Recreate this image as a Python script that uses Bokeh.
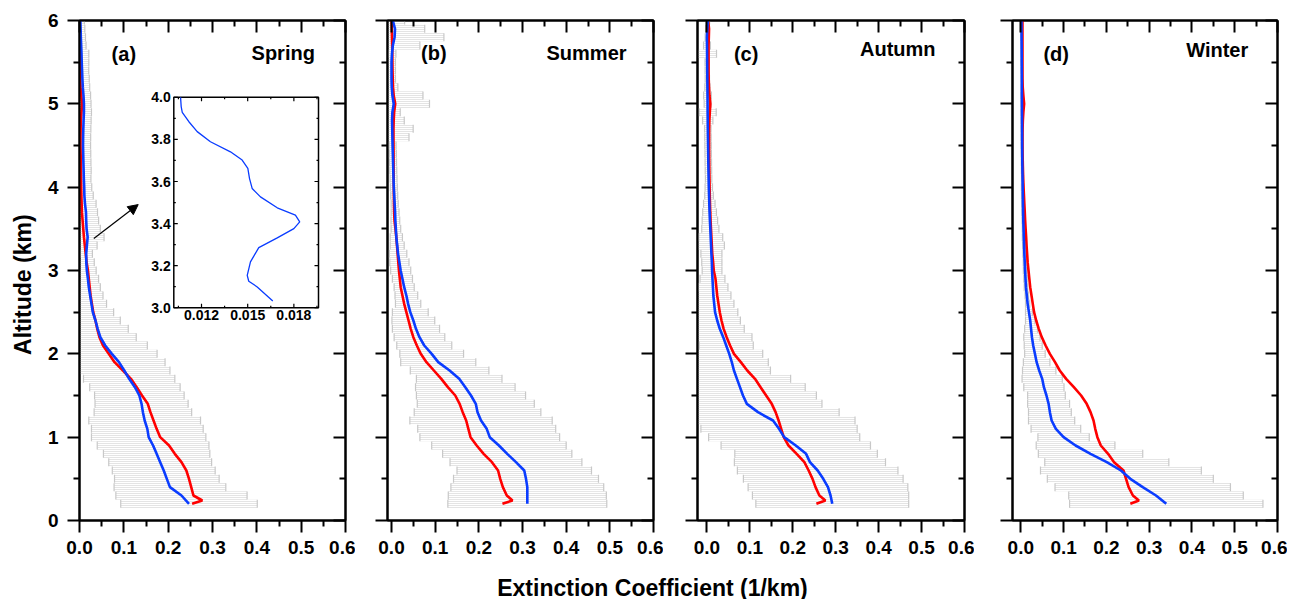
import math
from bokeh.plotting import figure
from bokeh.models import (LinearAxis, FixedTicker, PrintfTickFormatter, CustomJSTickFormatter,
                          Label, Range1d, Arrow, NormalHead, ColumnDataSource)
from bokeh.layouts import row, column
from bokeh.embed import file_html
from bokeh.resources import INLINE
from bokeh.core.properties import value

# ---------------- data ----------------
ALT = [0.2, 0.3, 0.4, 0.5, 0.6, 0.7, 0.8, 0.9, 1.0, 1.1,
       1.2, 1.3, 1.4, 1.5, 1.6, 1.7, 1.8, 1.9, 2.0, 2.1,
       2.2, 2.3, 2.4, 2.5, 2.6, 2.7, 2.8, 2.9, 3.0, 3.1,
       3.2, 3.3, 3.4, 3.5, 3.6, 3.7, 3.8, 3.9, 4.0, 4.1,
       4.2, 4.3, 4.4, 4.5, 4.6, 4.7, 4.8, 4.9, 5.0, 5.1,
       5.2, 5.3, 5.4, 5.5, 5.6, 5.7, 5.8, 5.9, 6.0]
RED_ALT = [0.2, 0.24] + ALT[1:]

BLUE_A = [0.247, 0.230, 0.204, 0.197, 0.190, 0.182, 0.174, 0.166, 0.156, 0.153,
          0.147, 0.143, 0.140, 0.135, 0.125, 0.112, 0.101, 0.089, 0.073, 0.058,
          0.047, 0.041, 0.036, 0.030, 0.027, 0.024, 0.021, 0.019, 0.0166, 0.0153,
          0.0151, 0.0167, 0.0184, 0.0160, 0.0151, 0.0146, 0.0124, 0.0110, 0.0106, 0.0098,
          0.0093, 0.0088, 0.0084, 0.0080, 0.0082, 0.0086, 0.0092, 0.0100, 0.0100, 0.0090,
          0.0075, 0.0065, 0.0058, 0.0050, 0.0045, 0.0038, 0.0030, 0.0025, 0.0020]
SD_A = [0.154, 0.148, 0.126, 0.118, 0.116, 0.116, 0.120, 0.126, 0.129, 0.126,
        0.126, 0.110, 0.105, 0.101, 0.102, 0.103, 0.103, 0.104, 0.102, 0.095,
        0.081, 0.069, 0.056, 0.047, 0.034, 0.029, 0.026, 0.024, 0.021, 0.018,
        0.014, 0.023, 0.037, 0.031, 0.028, 0.026, 0.025, 0.020, 0.017, 0.016,
        0.017, 0.017, 0.017, 0.017, 0.017, 0.017, 0.017, 0.017, 0.016, 0.016,
        0.0155, 0.0155, 0.015, 0.016, 0.0165, 0.011, 0.0105, 0.0095, 0.009]
RED_A = [0.254, 0.277, 0.257, 0.252, 0.247, 0.241, 0.230, 0.215, 0.202, 0.182,
         0.174, 0.167, 0.160, 0.154, 0.141, 0.129, 0.116, 0.098, 0.079, 0.066,
         0.053, 0.045, 0.040, 0.036, 0.031, 0.028, 0.025, 0.023, 0.021, 0.019,
         0.016, 0.014, 0.012, 0.010, 0.0085, 0.007, 0.0055, 0.0048, 0.0042, 0.0038,
         0.0035, 0.0032, 0.0029, 0.0026, 0.0023, 0.0023, 0.0025, 0.0030, 0.0045, 0.0060,
         0.0040, 0.0025, 0.0015, 0.0010, 0.0008, 0.0006, 0.0005, 0.0004, 0.0002, 0.0]

BLUE_B = [0.311, 0.311, 0.311, 0.308, 0.304, 0.285, 0.265, 0.246, 0.225, 0.218,
          0.205, 0.197, 0.193, 0.182, 0.169, 0.155, 0.133, 0.107, 0.092, 0.075,
          0.064, 0.056, 0.050, 0.043, 0.038, 0.034, 0.029, 0.025, 0.021, 0.018,
          0.015, 0.013, 0.011, 0.0100, 0.0088, 0.0082, 0.0072, 0.0062, 0.0052, 0.0046,
          0.0040, 0.0035, 0.0030, 0.0024, 0.0020, 0.0016, 0.0012, 0.0020, 0.0050, 0.0020,
          0.0005, 0.0, 0.0, 0.0, 0.0010, 0.0030, 0.0070, 0.0080, 0.0030]
SD_B = [0.182, 0.181, 0.175, 0.166, 0.154, 0.151, 0.148, 0.154, 0.160, 0.158,
        0.163, 0.145, 0.134, 0.125, 0.114, 0.098, 0.090, 0.086, 0.073, 0.063,
        0.058, 0.054, 0.049, 0.041, 0.029, 0.026, 0.023, 0.023, 0.023, 0.022,
        0.020, 0.016, 0.014, 0.011, 0.010, 0.009, 0.008, 0.008, 0.008, 0.008,
        0.008, 0.008, 0.008, 0.008, 0.038, 0.048, 0.028, 0.018, 0.082, 0.070,
        0.014, 0.009, 0.009, 0.009, 0.009, 0.062, 0.113, 0.068, 0.027]
RED_B = [0.254, 0.277, 0.264, 0.255, 0.249, 0.244, 0.230, 0.211, 0.195, 0.181,
         0.176, 0.171, 0.163, 0.156, 0.146, 0.129, 0.114, 0.097, 0.080, 0.067,
         0.058, 0.050, 0.044, 0.039, 0.034, 0.029, 0.025, 0.021, 0.019, 0.017,
         0.0155, 0.0140, 0.0125, 0.0110, 0.0090, 0.0068, 0.0060, 0.0056, 0.0054, 0.0052,
         0.0050, 0.0049, 0.0048, 0.0047, 0.0046, 0.0045, 0.0045, 0.0050, 0.0060, 0.0085,
         0.0050, 0.0035, 0.0028, 0.0023, 0.0020, 0.0018, 0.0015, 0.0010, 0.0006, 0.0]

BLUE_C = [0.292, 0.288, 0.282, 0.271, 0.258, 0.240, 0.231, 0.207, 0.180, 0.168,
          0.154, 0.119, 0.093, 0.084, 0.077, 0.070, 0.063, 0.058, 0.052, 0.045,
          0.038, 0.030, 0.024, 0.019, 0.017, 0.015, 0.014, 0.013, 0.012, 0.0115,
          0.0105, 0.0097, 0.0088, 0.0080, 0.0070, 0.0062, 0.0056, 0.0050, 0.0044, 0.0040,
          0.0036, 0.0033, 0.0030, 0.0027, 0.0024, 0.0021, 0.0019, 0.0017, 0.0016, 0.0014,
          0.0012, 0.0010, 0.0008, 0.0006, 0.0004, 0.0002, 0.0, 0.0010, 0.0023]
SD_C = [0.178, 0.182, 0.186, 0.186, 0.187, 0.176, 0.166, 0.174, 0.176, 0.182,
        0.191, 0.189, 0.175, 0.171, 0.152, 0.125, 0.085, 0.085, 0.078, 0.063,
        0.067, 0.057, 0.054, 0.053, 0.046, 0.041, 0.035, 0.029, 0.023, 0.0235,
        0.0245, 0.031, 0.028, 0.020, 0.018, 0.016, 0.0134, 0.010, 0.0086, 0.0075,
        0.0075, 0.0075, 0.0075, 0.0075, 0.0075, 0.0075, 0.012, 0.020, 0.008, 0.009,
        0.006, 0.005, 0.005, 0.005, 0.022, 0.008, 0.004, 0.004, 0.004]
RED_C = [0.255, 0.276, 0.262, 0.253, 0.246, 0.237, 0.227, 0.209, 0.190, 0.179,
         0.173, 0.167, 0.160, 0.151, 0.138, 0.125, 0.112, 0.094, 0.079, 0.063,
         0.054, 0.046, 0.039, 0.034, 0.030, 0.027, 0.024, 0.022, 0.020, 0.016,
         0.0145, 0.0125, 0.0115, 0.0105, 0.0095, 0.0085, 0.0078, 0.0072, 0.0067, 0.0063,
         0.0060, 0.0057, 0.0055, 0.0053, 0.0052, 0.0052, 0.0053, 0.0058, 0.0068, 0.0080,
         0.0060, 0.0048, 0.0042, 0.0039, 0.0039, 0.0039, 0.0039, 0.0045, 0.0050, 0.0030]

BLUE_D = [0.340, 0.316, 0.285, 0.256, 0.234, 0.201, 0.163, 0.128, 0.100, 0.082,
          0.072, 0.068, 0.065, 0.060, 0.054, 0.050, 0.043, 0.037, 0.033, 0.029,
          0.026, 0.024, 0.022, 0.019, 0.016, 0.014, 0.012, 0.0110, 0.0100, 0.0092,
          0.0083, 0.0077, 0.0070, 0.0064, 0.0058, 0.0054, 0.0050, 0.0047, 0.0044, 0.0041,
          0.0038, 0.0035, 0.0033, 0.0031, 0.0030, 0.0029, 0.0028, 0.0027, 0.0026, 0.0025,
          0.0024, 0.0024, 0.0023, 0.0022, 0.0021, 0.0020, 0.0018, 0.0017, 0.0016]
SD_D = [0.226, 0.204, 0.205, 0.194, 0.188, 0.145, 0.122, 0.092, 0.060, 0.058,
        0.054, 0.050, 0.049, 0.044, 0.047, 0.047, 0.039, 0.031, 0.024, 0.021,
        0.019, 0.015, 0.011, 0.008, 0.005, 0.004, 0.004, 0.004, 0.004, 0.0035,
        0.0035, 0.0035, 0.0035, 0.003, 0.003, 0.003, 0.003, 0.003, 0.003, 0.0025,
        0.0025, 0.0025, 0.0025, 0.0025, 0.0025, 0.0025, 0.0025, 0.0025, 0.0025, 0.0025,
        0.002, 0.002, 0.002, 0.002, 0.002, 0.002, 0.002, 0.002, 0.002]
RED_D = [0.256, 0.276, 0.262, 0.252, 0.246, 0.240, 0.218, 0.204, 0.187, 0.179,
         0.174, 0.170, 0.163, 0.154, 0.141, 0.124, 0.106, 0.091, 0.080, 0.068,
         0.058, 0.049, 0.042, 0.036, 0.031, 0.028, 0.025, 0.022, 0.020, 0.018,
         0.016, 0.0148, 0.0135, 0.0125, 0.0113, 0.0102, 0.0093, 0.0083, 0.0074, 0.0064,
         0.0056, 0.0050, 0.0046, 0.0042, 0.0040, 0.0040, 0.0042, 0.0048, 0.0060, 0.0078,
         0.0060, 0.0045, 0.0040, 0.0039, 0.0039, 0.0039, 0.0039, 0.0039, 0.0039, 0.0039]

# inset of panel (a): blue profile between 3 and 4 km
INSET_X = [0.01663, 0.01562, 0.01507, 0.01497, 0.01518, 0.01572, 0.01692, 0.01800,
           0.01838, 0.01810, 0.01692, 0.01583, 0.01529, 0.01512, 0.01501, 0.01464,
           0.01388, 0.01258, 0.01172, 0.01118, 0.01075, 0.01068, 0.01064]
INSET_Y = [3.032, 3.099, 3.126, 3.154, 3.218, 3.286, 3.332, 3.376,
           3.408, 3.440, 3.475, 3.527, 3.567, 3.614, 3.662, 3.702,
           3.741, 3.789, 3.837, 3.884, 3.929, 3.956, 4.000]
INSET_XTICKS = [0.012, 0.015, 0.018]
INSET_XMINOR = [0.0105, 0.0135, 0.0165, 0.0195]
INSET_YTICKS = [3.0, 3.2, 3.4, 3.6, 3.8, 4.0]
INSET_YMINOR = [3.1, 3.3, 3.5, 3.7, 3.9]

XTICKS = [0.0, 0.1, 0.2, 0.3, 0.4, 0.5, 0.6]
XMINOR = [0.05, 0.15, 0.25, 0.35, 0.45, 0.55]
YTICKS = [0, 1, 2, 3, 4, 5, 6]
YMINOR = [0.5, 1.5, 2.5, 3.5, 4.5, 5.5]

LETTERS = ["(a)", "(b)", "(c)", "(d)"]
SEASONS = ["Spring", "Summer", "Autumn", "Winter"]
X_TITLE = "Extinction Coefficient (1/km)"
Y_TITLE = "Altitude (km)"

# ---------------- style ----------------
FONT = "Liberation Sans"
BLUE = "#0a3cff"
RED = "#ff0000"
GRAY = "#c8c8c8"
H = 562
BT, BB = 20, 42          # frame top / bottom border (frame 20..520)
X_END = 0.6
BAR_H = 0.1
YT_W = 40                # width of the strip carrying the y title

PANEL_SPECS = [
    dict(x0=0.0, w=355 - YT_W, bl=79 - YT_W, lx=0.100, ly=5.60, sx=0.4595, sy=5.61),
    dict(x0=-0.0092, w=308, bl=32, lx=0.0968, ly=5.61, sx=0.4466, sy=5.61),
    dict(x0=-0.0219, w=311, bl=34, lx=0.0915, ly=5.60, sx=0.4446, sy=5.655),
    dict(x0=-0.0194, w=313, bl=38, lx=0.0827, ly=5.60, sx=0.4591, sy=5.645),
]
BR = 10

EMPTY = CustomJSTickFormatter(code="return ''")


def style_axis(ax, tin, tout, labels):
    ax.axis_line_width = 2
    ax.axis_line_color = "black"
    ax.major_tick_line_width = 2
    ax.minor_tick_line_width = 2
    ax.major_tick_in = tin[0]
    ax.major_tick_out = tout[0]
    ax.minor_tick_in = tin[1]
    ax.minor_tick_out = tout[1]
    ax.major_label_text_font = FONT
    ax.major_label_text_font_size = "19px" if labels else "0px"
    ax.major_label_text_font_style = "bold"
    ax.major_label_text_color = "black"


def make_panel(i, blue, sd, red):
    s = PANEL_SPECS[i]
    p = figure(width=s["w"], height=H, x_range=Range1d(s["x0"], X_END), y_range=Range1d(0, 6),
               output_backend="svg", toolbar_location=None,
               min_border_left=s["bl"], min_border_right=BR,
               min_border_top=BT, min_border_bottom=BB)
    p.xgrid.visible = False
    p.ygrid.visible = False
    p.outline_line_color = "black"
    p.outline_line_width = 2
    p.background_fill_color = "white"

    xb = p.xaxis[0]
    xb.ticker = FixedTicker(ticks=XTICKS, minor_ticks=XMINOR)
    xb.formatter = PrintfTickFormatter(format="%.1f")
    style_axis(xb, (0, 0), (12, 6), True)
    xb.major_label_standoff = 8

    yl = p.yaxis[0]
    yl.ticker = FixedTicker(ticks=YTICKS, minor_ticks=YMINOR)
    if i == 0:
        yl.formatter = PrintfTickFormatter(format="%d")
        style_axis(yl, (0, 0), (12, 6), True)
    else:
        yl.formatter = EMPTY
        style_axis(yl, (0, 0), (12, 6), False)
    yl.major_label_standoff = 9

    yr = LinearAxis(ticker=FixedTicker(ticks=YTICKS, minor_ticks=YMINOR), formatter=EMPTY)
    style_axis(yr, (12, 6), (0, 0), False)
    yr.major_label_standoff = 0
    p.add_layout(yr, "right")
    xt = LinearAxis(ticker=FixedTicker(ticks=XTICKS, minor_ticks=XMINOR), formatter=EMPTY)
    style_axis(xt, (12, 6), (0, 0), False)
    xt.major_label_standoff = 0
    p.add_layout(xt, "above")

    src = ColumnDataSource(dict(alt=ALT,
                                lo=[m - d for m, d in zip(blue, sd)],
                                hi=[m + d for m, d in zip(blue, sd)]))
    p.hbar(y="alt", left="lo", right="hi", height=BAR_H, source=src,
           fill_color=None, line_color=None,
           hatch_pattern="horizontal_line", hatch_color=GRAY, hatch_scale=2, hatch_weight=1.0)
    for end in ("lo", "hi"):
        p.scatter(x=end, y="alt", source=src, marker="dash", angle=math.pi / 2, size=8,
                  line_color=GRAY, line_width=1.2)
    p.line(red, RED_ALT, line_color=RED, line_width=2.6)
    p.line(blue, ALT, line_color=BLUE, line_width=2.6)

    for txt, x, y in ((LETTERS[i], s["lx"], s["ly"]), (SEASONS[i], s["sx"], s["sy"])):
        p.add_layout(Label(x=x, y=y, text=txt, text_font=FONT, text_font_size="20px",
                           text_font_style="bold", text_align="center", text_baseline="middle",
                           text_color="black"))
    return p


pa = make_panel(0, BLUE_A, SD_A, RED_A)
pb = make_panel(1, BLUE_B, SD_B, RED_B)
pc = make_panel(2, BLUE_C, SD_C, RED_C)
pd_ = make_panel(3, BLUE_D, SD_D, RED_D)

# ---------------- inset in panel (a) ----------------
BOX = (0.2127, 0.5391, 2.553, 5.078)      # inset frame in panel-(a) data units
IX = (0.0102, 0.0196)
IY = (3.0, 4.0)
kx = (IX[1] - IX[0]) / (BOX[1] - BOX[0])
ky = (IY[1] - IY[0]) / (BOX[3] - BOX[2])
pa.extra_x_ranges = {"ix": Range1d(IX[0] - BOX[0] * kx, IX[1] + (X_END - BOX[1]) * kx)}
pa.extra_y_ranges = {"iy": Range1d(IY[0] - BOX[2] * ky, IY[1] + (6 - BOX[3]) * ky)}
ir = dict(x_range_name="ix", y_range_name="iy")

pa.quad(left=[IX[0]], right=[IX[1]], bottom=[IY[0]], top=[IY[1]], fill_color="white",
        line_color="black", line_width=1.5, **ir)
px_x = (IX[1] - IX[0]) / 145.0   # inset units per pixel
px_y = (IY[1] - IY[0]) / 210.0
tx0, tx1, ty0, ty1 = [], [], [], []
for t, ln in [(v, 4) for v in INSET_XTICKS] + [(v, 2) for v in INSET_XMINOR]:
    tx0 += [t, t]; tx1 += [t, t]
    ty0 += [IY[0], IY[1]]; ty1 += [IY[0] + ln * px_y, IY[1] - ln * px_y]
for t, ln in [(v, 4) for v in INSET_YTICKS] + [(v, 2) for v in INSET_YMINOR]:
    ty0 += [t, t]; ty1 += [t, t]
    tx0 += [IX[0], IX[1]]; tx1 += [IX[0] + ln * px_x, IX[1] - ln * px_x]
pa.segment(x0=tx0, y0=ty0, x1=tx1, y1=ty1, line_color="black", line_width=1.2, **ir)
pa.line(INSET_X, INSET_Y, line_color=BLUE, line_width=1.3, **ir)
pa.text(x=[IX[0]] * len(INSET_YTICKS), y=INSET_YTICKS, text=["%.1f" % v for v in INSET_YTICKS],
        text_font=value(FONT), text_font_size="14px", text_font_style="bold",
        text_align="right", text_baseline="middle", x_offset=-3, text_color="black", **ir)
pa.text(x=INSET_XTICKS, y=[IY[0]] * len(INSET_XTICKS), text=["%.3f" % v for v in INSET_XTICKS],
        text_font=value(FONT), text_font_size="14px", text_font_style="bold",
        text_align="center", text_baseline="top", y_offset=2, text_color="black", **ir)

pa.add_layout(Arrow(end=NormalHead(size=10, fill_color="black", line_color="black"),
                    x_start=0.0323, y_start=3.383, x_end=0.1324, y_end=3.791,
                    line_color="black", line_width=1.2))

# ---------------- y title strip ----------------
py = figure(width=YT_W, height=H, x_range=Range1d(0, YT_W), y_range=Range1d(0, 6),
            output_backend="svg", toolbar_location=None, title=None,
            min_border_left=0, min_border_right=0, min_border_top=BT, min_border_bottom=BB,
            x_axis_location=None, y_axis_location=None)
py.outline_line_color = None
py.grid.visible = False
py.add_layout(Label(x=22.5, y=2.83, text=Y_TITLE, text_font=FONT, text_font_size="23px",
                    text_font_style="bold", text_align="center", text_baseline="middle",
                    angle=math.pi / 2, text_color="black"))

# ---------------- shared x title ----------------
TW = YT_W + sum(s["w"] for s in PANEL_SPECS)
TH = 599 - H
pt = figure(width=TW, height=TH, x_range=Range1d(0, TW), y_range=Range1d(0, TH),
            output_backend="svg", toolbar_location=None, min_border=0, title=None,
            x_axis_location=None, y_axis_location=None)
pt.outline_line_color = None
pt.grid.visible = False
pt.add_layout(Label(x=652, y=12, text=X_TITLE, text_font=FONT, text_font_size="23px",
                    text_font_style="bold", text_align="center", text_baseline="alphabetic",
                    text_color="black"))

layout = column(row(py, pa, pb, pc, pd_), pt)
open("out.html", "w").write(file_html(layout, INLINE))
